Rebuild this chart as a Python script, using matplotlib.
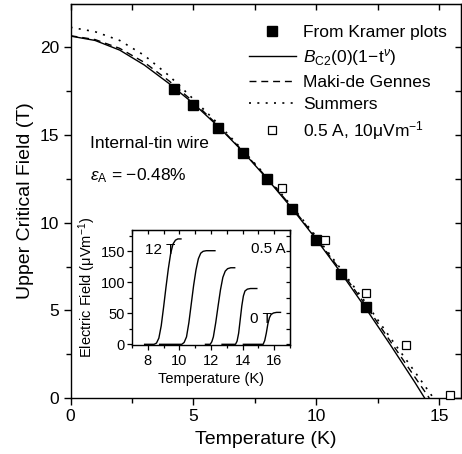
import matplotlib
matplotlib.use("Agg")
import matplotlib.pyplot as plt
from matplotlib.lines import Line2D
from matplotlib.ticker import MultipleLocator

plt.rcParams['font.family'] = ['Liberation Sans', 'DejaVu Sans']
plt.rcParams['mathtext.fontset'] = 'custom'
plt.rcParams['mathtext.rm'] = 'Liberation Sans'
plt.rcParams['mathtext.it'] = 'Liberation Sans:italic'
plt.rcParams['mathtext.bf'] = 'Liberation Sans:bold'

# ---------------- main panel data ----------------
kramer_T = [4.2, 5.0, 6.0, 7.0, 8.0, 9.0, 10.0, 11.0, 12.0]
kramer_B = [17.65, 16.7, 15.4, 14.0, 12.5, 10.8, 9.0, 7.1, 5.2]

resist_T = [8.6, 10.35, 12.0, 13.65, 15.45]
resist_B = [12.0, 9.0, 6.0, 3.0, 0.15]

fit_T = [0, 1, 2, 3, 4, 5, 6, 7, 8, 9, 10, 11, 12, 13, 14, 14.4]
fit_B = [20.65, 20.4, 19.85, 19.0, 17.95, 16.8, 15.5, 14.07, 12.5, 10.83,
         9.04, 7.14, 5.13, 3.05, 0.9, 0.0]

mdg_T = [0, 1, 2, 3, 4, 5, 6, 7, 8, 9, 10, 11, 12, 13, 14, 14.59]
mdg_B = [20.67, 20.45, 19.95, 19.15, 18.1, 16.9, 15.55, 14.1, 12.55, 10.9,
         9.1, 7.25, 5.3, 3.25, 1.2, 0.0]

sum_T = [0, 1, 2, 3, 4, 5, 6, 7, 8, 9, 10, 11, 12, 13, 14, 14.76]
sum_B = [21.15, 20.9, 20.4, 19.55, 18.4, 17.05, 15.65, 14.15, 12.6, 10.95,
         9.2, 7.35, 5.45, 3.45, 1.5, 0.0]

# ---------------- inset data (E vs T) ----------------
e12_T = [7.8, 8.4, 8.55, 8.7, 8.85, 9.0, 9.15, 9.3, 9.45, 9.6, 9.75, 9.9, 10.1]
e12_E = [0, 0, 2, 10, 30, 60, 92, 122, 147, 162, 168, 170, 170]

e9_T = [8.75, 10.15, 10.3, 10.45, 10.6, 10.75, 10.9, 11.05, 11.2, 11.35, 11.5, 11.7, 12.25]
e9_E = [0, 0, 3, 12, 35, 65, 95, 120, 138, 147, 150, 151, 151]

e6_T = [11.65, 11.95, 12.05, 12.15, 12.3, 12.45, 12.6, 12.75, 12.9, 13.05, 13.25, 13.5]
e6_E = [0, 0, 4, 12, 35, 62, 88, 108, 118, 122, 123.5, 123.5]

e3_T = [12.7, 13.55, 13.65, 13.75, 13.85, 13.95, 14.05, 14.15, 14.3, 14.5, 14.9]
e3_E = [0, 0, 5, 18, 40, 62, 78, 86, 89, 90, 90]

e0_T = [14.05, 15.3, 15.4, 15.5, 15.6, 15.7, 15.8, 15.95, 16.15, 16.4]
e0_E = [0, 0, 6, 18, 33, 43, 48, 50.5, 51.5, 51.5]

inset_curves = [(e12_T, e12_E), (e9_T, e9_E), (e6_T, e6_E), (e3_T, e3_E), (e0_T, e0_E)]

W, H = 462, 454
fig = plt.figure(figsize=(W / 100, H / 100), dpi=100)

def fx(px):
    return px / W

def fy(py):
    return 1 - py / H

ax = fig.add_axes([fx(70.5), fy(398), fx(461) - fx(70.5), fy(4) - fy(398)])
ax.set_xlim(0, 15.88)
ax.set_ylim(0, 22.48)

ax.plot(fit_T, fit_B, '-', color='black', lw=1.0)
ax.plot(mdg_T, mdg_B, '-', color='black', lw=1.0, dashes=(5, 3.5))
ax.plot(sum_T, sum_B, '-', color='black', lw=1.2, dashes=(1.2, 3.8))
ax.plot(kramer_T, kramer_B, 's', color='black', ms=6.5, zorder=5)
ax.plot(resist_T, resist_B, 's', mfc='white', mec='black', mew=0.9, ms=6.0,
        zorder=5, clip_on=False)

ax.xaxis.set_major_locator(MultipleLocator(5))
ax.xaxis.set_minor_locator(MultipleLocator(2.5))
ax.yaxis.set_major_locator(MultipleLocator(5))
ax.yaxis.set_minor_locator(MultipleLocator(2.5))
for sp in ax.spines.values():
    sp.set_linewidth(1.0)
ax.tick_params(which='both', direction='out', width=1.0, labelsize=12.5,
               top=False, right=False)
ax.tick_params(which='major', length=5)
ax.tick_params(which='minor', length=3.5)
ax.tick_params(axis='y', pad=3)
ax.tick_params(axis='x', pad=3)
# mirrored ticks on top / right, pointing inward
axt = ax.secondary_xaxis('top')
axt.xaxis.set_major_locator(MultipleLocator(5))
axt.xaxis.set_minor_locator(MultipleLocator(2.5))
axt.tick_params(which='both', direction='in', length=4.5, width=1.0, labeltop=False)
axr = ax.secondary_yaxis('right')
axr.yaxis.set_major_locator(MultipleLocator(5))
axr.yaxis.set_minor_locator(MultipleLocator(2.5))
axr.tick_params(which='both', direction='in', length=4.5, width=1.0, labelright=False)

ax.set_xlabel('Temperature (K)', fontsize=14, labelpad=5)
ax.set_ylabel('Upper Critical Field (T)', fontsize=14, labelpad=4)

handles = [
    Line2D([], [], ls='none', marker='s', color='black', ms=6.5),
    Line2D([], [], ls='-', color='black', lw=1.0),
    Line2D([], [], ls='-', color='black', lw=1.0, dashes=(5, 3.5)),
    Line2D([], [], ls='-', color='black', lw=1.2, dashes=(1.2, 3.8)),
    Line2D([], [], ls='none', marker='s', mfc='white', mec='black', mew=0.9, ms=6.0),
]
labels = ['From Kramer plots',
          r'$B_{\mathrm{C2}}\mathrm{(0)(1\!-\!t}^{\nu}\mathrm{)}$',
          'Maki-de Gennes',
          'Summers',
          '0.5 A, 10μVm$^{-1}$']
leg = ax.legend(handles, labels, loc='upper left', frameon=False, fontsize=12.5,
                bbox_to_anchor=(fx(249), fy(24.5)), bbox_transform=fig.transFigure,
                borderpad=0, borderaxespad=0, handlelength=2.7, handletextpad=0.4,
                labelspacing=0.40)

fig.text(fx(90.5), fy(143.5), 'Internal-tin wire', fontsize=12.5, ha='left', va='center')
fig.text(fx(90.5), fy(176), r'$\varepsilon_{\mathrm{A}}$ = −0.48%', fontsize=12.5,
         ha='left', va='center')

# ---------------- inset ----------------
axi = fig.add_axes([fx(132), fy(345.3), fx(290) - fx(132), fy(230) - fy(345.3)])
axi.set_xlim(7, 17)
axi.set_ylim(-1.6, 184.4)
for t, e in inset_curves:
    axi.plot(t, e, '-', color='black', lw=1.0)
axi.xaxis.set_major_locator(MultipleLocator(2))
axi.xaxis.set_minor_locator(MultipleLocator(1))
axi.yaxis.set_major_locator(MultipleLocator(50))
axi.yaxis.set_minor_locator(MultipleLocator(25))
for sp in axi.spines.values():
    sp.set_linewidth(1.0)
axi.tick_params(which='both', direction='out', width=0.9, labelsize=10.5,
                top=False, right=False)
axi.tick_params(which='major', length=3.5)
axi.tick_params(which='minor', length=2.5)
axi.tick_params(axis='y', pad=1.5)
axi.tick_params(axis='x', pad=3)
ait = axi.secondary_xaxis('top')
ait.xaxis.set_major_locator(MultipleLocator(2))
ait.xaxis.set_minor_locator(MultipleLocator(1))
ait.tick_params(which='both', direction='in', length=3, width=0.9, labeltop=False)
air = axi.secondary_yaxis('right')
air.yaxis.set_major_locator(MultipleLocator(50))
air.yaxis.set_minor_locator(MultipleLocator(25))
air.tick_params(which='both', direction='in', length=3, width=0.9, labelright=False)
axi.set_xlabel('Temperature (K)', fontsize=10.5, labelpad=3)
axi.set_ylabel('Electric Field (μVm$^{-1}$)', fontsize=10.5, labelpad=2)

fig.text(fx(145), fy(250), '12 T', fontsize=11, ha='left', va='center')
fig.text(fx(285.5), fy(249), '0.5 A', fontsize=11, ha='right', va='center')
fig.text(fx(250), fy(319), '0 T', fontsize=11, ha='left', va='center')

fig.savefig('out.png', dpi=100)
